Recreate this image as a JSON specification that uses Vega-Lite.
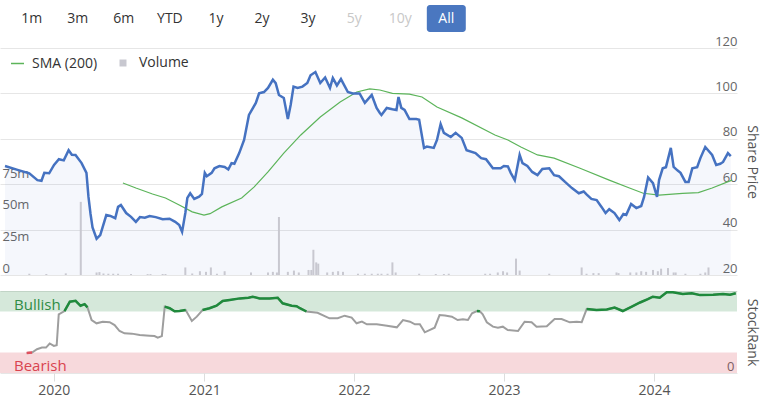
{
  "$schema": "https://vega.github.io/schema/vega-lite/v6.json",
  "padding": {"top": 5, "left": 0, "right": 14, "bottom": 0},
  "background": "white",
  "config": {
    "view": {"stroke": null},
    "font": "Open Sans",
    "axis": {"labelFont": "Open Sans", "titleFont": "Open Sans", "titleFontWeight": "normal"}
  },
  "datasets": {
    "buttons": [
      {"label": "1m", "state": "normal"}, {"label": "3m", "state": "normal"}, {"label": "6m", "state": "normal"},
      {"label": "YTD", "state": "normal"}, {"label": "1y", "state": "normal"}, {"label": "2y", "state": "normal"},
      {"label": "3y", "state": "normal"}, {"label": "5y", "state": "disabled"}, {"label": "10y", "state": "disabled"},
      {"label": "All", "state": "active"}
    ],
    "price": [
      {"date":"2019-08-23","price":68},{"date":"2019-09-23","price":66.3},{"date":"2019-10-22","price":64.8},{"date":"2019-11-11","price":61.8},{"date":"2019-11-21","price":61.5},{"date":"2019-11-28","price":65},{"date":"2019-12-10","price":64.8},{"date":"2019-12-22","price":68.5},{"date":"2020-01-03","price":71},{"date":"2020-01-15","price":70.5},{"date":"2020-01-27","price":75},{"date":"2020-02-04","price":73},{"date":"2020-02-13","price":72.9},{"date":"2020-02-28","price":69.3},{"date":"2020-03-11","price":65},{"date":"2020-03-16","price":54.4},{"date":"2020-03-21","price":47},{"date":"2020-03-26","price":41},{"date":"2020-04-05","price":36},{"date":"2020-04-14","price":37.6},{"date":"2020-04-29","price":46.4},{"date":"2020-05-09","price":46},{"date":"2020-05-21","price":45},{"date":"2020-05-28","price":50},{"date":"2020-06-04","price":50.8},{"date":"2020-06-17","price":47.3},{"date":"2020-06-29","price":45.6},{"date":"2020-07-11","price":43.4},{"date":"2020-07-21","price":45.5},{"date":"2020-08-02","price":45.2},{"date":"2020-08-14","price":46},{"date":"2020-08-29","price":45.5},{"date":"2020-09-15","price":44.6},{"date":"2020-10-02","price":44.8},{"date":"2020-10-16","price":43.4},{"date":"2020-10-26","price":42},{"date":"2020-11-02","price":39},{"date":"2020-11-10","price":47.3},{"date":"2020-11-15","price":54},{"date":"2020-11-22","price":56},{"date":"2020-12-02","price":53.5},{"date":"2020-12-14","price":54.5},{"date":"2020-12-21","price":55.7},{"date":"2020-12-28","price":65},{"date":"2021-01-02","price":63.5},{"date":"2021-01-14","price":65},{"date":"2021-01-21","price":67},{"date":"2021-02-02","price":68},{"date":"2021-02-15","price":67.6},{"date":"2021-02-24","price":66.5},{"date":"2021-03-04","price":69.3},{"date":"2021-03-11","price":69},{"date":"2021-03-23","price":73.7},{"date":"2021-04-04","price":79.5},{"date":"2021-04-16","price":90.5},{"date":"2021-04-26","price":93.6},{"date":"2021-05-03","price":95.8},{"date":"2021-05-11","price":100},{"date":"2021-05-23","price":100.6},{"date":"2021-06-02","price":102.4},{"date":"2021-06-14","price":106},{"date":"2021-06-21","price":104.5},{"date":"2021-06-29","price":99.3},{"date":"2021-07-11","price":98},{"date":"2021-07-21","price":88.7},{"date":"2021-07-28","price":95},{"date":"2021-08-04","price":103},{"date":"2021-08-14","price":102.4},{"date":"2021-08-26","price":103},{"date":"2021-09-07","price":104.6},{"date":"2021-09-15","price":108},{"date":"2021-09-27","price":109.4},{"date":"2021-10-09","price":104.6},{"date":"2021-10-21","price":107},{"date":"2021-11-02","price":102.4},{"date":"2021-11-09","price":106.8},{"date":"2021-11-19","price":103.5},{"date":"2021-11-29","price":106.3},{"date":"2021-12-16","price":100.6},{"date":"2021-12-28","price":100},{"date":"2022-01-14","price":100},{"date":"2022-01-27","price":95.8},{"date":"2022-02-13","price":99.3},{"date":"2022-02-25","price":93.6},{"date":"2022-03-05","price":91.4},{"date":"2022-03-09","price":90.5},{"date":"2022-03-22","price":93.6},{"date":"2022-04-05","price":93},{"date":"2022-04-15","price":92.7},{"date":"2022-04-20","price":98.4},{"date":"2022-04-27","price":93.6},{"date":"2022-05-05","price":92.7},{"date":"2022-05-17","price":88.7},{"date":"2022-06-03","price":88.7},{"date":"2022-06-10","price":88.4},{"date":"2022-06-22","price":76},{"date":"2022-06-29","price":76.6},{"date":"2022-07-16","price":76},{"date":"2022-07-24","price":79.5},{"date":"2022-08-02","price":86.5},{"date":"2022-08-10","price":82.6},{"date":"2022-08-27","price":80.8},{"date":"2022-09-08","price":82.6},{"date":"2022-09-23","price":80.4},{"date":"2022-10-05","price":75},{"date":"2022-10-27","price":73.7},{"date":"2022-11-10","price":71.5},{"date":"2022-11-22","price":71},{"date":"2022-12-09","price":67},{"date":"2022-12-28","price":67},{"date":"2023-01-05","price":68},{"date":"2023-01-15","price":67.8},{"date":"2023-01-22","price":65},{"date":"2023-02-01","price":61.8},{"date":"2023-02-13","price":72.9},{"date":"2023-02-20","price":69.3},{"date":"2023-03-04","price":68},{"date":"2023-03-16","price":65.4},{"date":"2023-03-29","price":64},{"date":"2023-04-10","price":66.7},{"date":"2023-04-27","price":67},{"date":"2023-05-09","price":64},{"date":"2023-05-21","price":63.5},{"date":"2023-06-05","price":61},{"date":"2023-06-22","price":58.3},{"date":"2023-07-09","price":56},{"date":"2023-07-21","price":56.8},{"date":"2023-07-28","price":55.5},{"date":"2023-08-09","price":53.5},{"date":"2023-08-22","price":53},{"date":"2023-09-03","price":50},{"date":"2023-09-13","price":47.3},{"date":"2023-09-22","price":49},{"date":"2023-10-05","price":47.3},{"date":"2023-10-17","price":44.2},{"date":"2023-10-27","price":46.9},{"date":"2023-11-03","price":46.5},{"date":"2023-11-15","price":51.3},{"date":"2023-11-28","price":49.5},{"date":"2023-12-10","price":50.4},{"date":"2023-12-17","price":54.4},{"date":"2023-12-27","price":63},{"date":"2024-01-08","price":60.5},{"date":"2024-01-18","price":54.4},{"date":"2024-01-23","price":61.8},{"date":"2024-02-01","price":67},{"date":"2024-02-09","price":67.5},{"date":"2024-02-21","price":76},{"date":"2024-02-28","price":67.6},{"date":"2024-03-09","price":66},{"date":"2024-03-16","price":65},{"date":"2024-03-28","price":61},{"date":"2024-04-05","price":61},{"date":"2024-04-14","price":67},{"date":"2024-04-26","price":67.5},{"date":"2024-05-04","price":71.5},{"date":"2024-05-16","price":76.4},{"date":"2024-06-02","price":72.9},{"date":"2024-06-12","price":68.5},{"date":"2024-06-22","price":69},{"date":"2024-06-29","price":69.8},{"date":"2024-07-11","price":73.7},{"date":"2024-07-18","price":72.4}
    ],
    "sma": [
      {"date":"2020-06-09","sma":60.5},{"date":"2020-07-11","sma":58.3},{"date":"2020-08-21","sma":55.7},{"date":"2020-09-22","sma":53.9},{"date":"2020-10-26","sma":50.8},{"date":"2020-11-27","sma":47.8},{"date":"2020-12-26","sma":46.4},{"date":"2021-01-10","sma":47},{"date":"2021-02-08","sma":50},{"date":"2021-03-29","sma":53.9},{"date":"2021-04-29","sma":58.8},{"date":"2021-06-02","sma":65.4},{"date":"2021-07-11","sma":73.7},{"date":"2021-08-22","sma":81.7},{"date":"2021-10-09","sma":89.6},{"date":"2021-11-27","sma":96.2},{"date":"2022-01-07","sma":100.6},{"date":"2022-02-08","sma":102},{"date":"2022-03-05","sma":101.5},{"date":"2022-04-05","sma":100},{"date":"2022-05-17","sma":99.7},{"date":"2022-06-17","sma":98.4},{"date":"2022-07-24","sma":94},{"date":"2022-09-23","sma":89.2},{"date":"2022-12-14","sma":81.7},{"date":"2023-01-15","sma":79.5},{"date":"2023-02-16","sma":76.4},{"date":"2023-03-29","sma":72.9},{"date":"2023-05-09","sma":71.5},{"date":"2023-07-12","sma":67},{"date":"2023-09-22","sma":61.8},{"date":"2023-11-11","sma":58.3},{"date":"2023-12-15","sma":56},{"date":"2024-01-23","sma":55.2},{"date":"2024-03-21","sma":56},{"date":"2024-04-29","sma":56.3},{"date":"2024-06-02","sma":58.3},{"date":"2024-07-21","sma":61.8}
    ],
    "volume": [
      {"date":"2019-10-22","vol":1000000},{"date":"2019-12-03","vol":800000},{"date":"2020-01-20","vol":1300000},{"date":"2020-02-26","vol":58000000},{"date":"2020-04-05","vol":2000000},{"date":"2020-04-12","vol":2300000},{"date":"2020-04-22","vol":1200000},{"date":"2020-05-04","vol":1000000},{"date":"2020-05-16","vol":1000000},{"date":"2020-05-28","vol":1000000},{"date":"2020-06-29","vol":800000},{"date":"2020-08-09","vol":700000},{"date":"2020-08-16","vol":700000},{"date":"2020-09-15","vol":800000},{"date":"2020-09-22","vol":800000},{"date":"2020-11-10","vol":6000000},{"date":"2020-11-27","vol":1200000},{"date":"2020-12-16","vol":3000000},{"date":"2020-12-31","vol":2500000},{"date":"2021-01-12","vol":6000000},{"date":"2021-01-27","vol":1000000},{"date":"2021-02-15","vol":3000000},{"date":"2021-04-21","vol":2000000},{"date":"2021-06-02","vol":2000000},{"date":"2021-06-14","vol":2500000},{"date":"2021-06-24","vol":2000000},{"date":"2021-06-29","vol":46000000},{"date":"2021-07-21","vol":2500000},{"date":"2021-08-05","vol":3500000},{"date":"2021-08-17","vol":2000000},{"date":"2021-09-10","vol":4000000},{"date":"2021-09-17","vol":4000000},{"date":"2021-09-22","vol":20000000},{"date":"2021-09-29","vol":10000000},{"date":"2021-10-04","vol":9000000},{"date":"2021-10-26","vol":2000000},{"date":"2021-11-09","vol":2500000},{"date":"2021-11-22","vol":3000000},{"date":"2021-12-04","vol":2500000},{"date":"2022-01-10","vol":1000000},{"date":"2022-01-27","vol":1000000},{"date":"2022-02-13","vol":1000000},{"date":"2022-02-28","vol":1000000},{"date":"2022-03-09","vol":1000000},{"date":"2022-03-24","vol":1000000},{"date":"2022-04-05","vol":10000000},{"date":"2022-04-13","vol":2000000},{"date":"2022-06-10","vol":1000000},{"date":"2022-07-21","vol":800000},{"date":"2022-08-10","vol":800000},{"date":"2022-08-22","vol":1000000},{"date":"2022-11-20","vol":1000000},{"date":"2022-12-02","vol":1000000},{"date":"2022-12-21","vol":2000000},{"date":"2023-01-03","vol":3000000},{"date":"2023-01-13","vol":2000000},{"date":"2023-02-04","vol":13000000},{"date":"2023-02-13","vol":3500000},{"date":"2023-04-27","vol":1000000},{"date":"2023-07-16","vol":6000000},{"date":"2023-07-28","vol":1000000},{"date":"2023-08-14","vol":1500000},{"date":"2023-08-27","vol":1500000},{"date":"2023-10-10","vol":2000000},{"date":"2023-10-15","vol":1500000},{"date":"2023-11-13","vol":2000000},{"date":"2023-11-28","vol":2000000},{"date":"2023-12-10","vol":3000000},{"date":"2023-12-22","vol":2500000},{"date":"2024-01-08","vol":4000000},{"date":"2024-01-20","vol":3000000},{"date":"2024-01-28","vol":5000000},{"date":"2024-02-14","vol":5500000},{"date":"2024-02-28","vol":2000000},{"date":"2024-03-04","vol":2000000},{"date":"2024-03-28","vol":1000000},{"date":"2024-05-04","vol":1000000},{"date":"2024-05-16","vol":2000000},{"date":"2024-05-24","vol":6000000}
    ],
    "rank": [
      {"date":"2019-10-27","rank":24.5},{"date":"2019-11-09","rank":25},{"date":"2019-11-21","rank":29},{"date":"2019-12-03","rank":31},{"date":"2019-12-13","rank":31},{"date":"2019-12-22","rank":36},{"date":"2020-01-01","rank":33},{"date":"2020-01-08","rank":34},{"date":"2020-01-13","rank":71.6},{"date":"2020-01-27","rank":75.5},{"date":"2020-02-09","rank":87},{"date":"2020-02-23","rank":88},{"date":"2020-03-06","rank":82},{"date":"2020-03-16","rank":84},{"date":"2020-03-23","rank":80},{"date":"2020-04-02","rank":64.6},{"date":"2020-04-14","rank":60.6},{"date":"2020-04-29","rank":62.6},{"date":"2020-05-16","rank":62},{"date":"2020-05-28","rank":58.5},{"date":"2020-06-09","rank":51.2},{"date":"2020-06-21","rank":48.4},{"date":"2020-07-09","rank":48},{"date":"2020-07-28","rank":46.3},{"date":"2020-08-21","rank":45.5},{"date":"2020-09-02","rank":45},{"date":"2020-09-10","rank":43},{"date":"2020-09-20","rank":45},{"date":"2020-09-27","rank":81},{"date":"2020-10-09","rank":79},{"date":"2020-10-21","rank":75.2},{"date":"2020-11-02","rank":75.5},{"date":"2020-11-17","rank":76.8},{"date":"2020-12-02","rank":63.4},{"date":"2020-12-14","rank":68.7},{"date":"2020-12-28","rank":76.8},{"date":"2021-01-14","rank":79},{"date":"2021-01-31","rank":82},{"date":"2021-02-15","rank":87.8},{"date":"2021-03-04","rank":89},{"date":"2021-03-29","rank":91},{"date":"2021-04-19","rank":91.8},{"date":"2021-04-29","rank":93},{"date":"2021-05-16","rank":91},{"date":"2021-06-09","rank":91},{"date":"2021-06-29","rank":91.8},{"date":"2021-07-11","rank":85},{"date":"2021-08-02","rank":82},{"date":"2021-08-14","rank":81.5},{"date":"2021-08-22","rank":79},{"date":"2021-09-07","rank":75},{"date":"2021-10-04","rank":73.5},{"date":"2021-11-02","rank":66.7},{"date":"2021-11-22","rank":66.7},{"date":"2021-12-09","rank":69.9},{"date":"2021-12-26","rank":67.5},{"date":"2022-01-07","rank":60.6},{"date":"2022-01-20","rank":62.6},{"date":"2022-02-01","rank":59.4},{"date":"2022-02-25","rank":59.4},{"date":"2022-03-22","rank":57.7},{"date":"2022-04-15","rank":55.7},{"date":"2022-04-30","rank":64.6},{"date":"2022-05-17","rank":62.6},{"date":"2022-05-29","rank":59.4},{"date":"2022-06-10","rank":59.4},{"date":"2022-06-22","rank":49.6},{"date":"2022-07-16","rank":55.3},{"date":"2022-07-28","rank":70.7},{"date":"2022-08-10","rank":70},{"date":"2022-08-27","rank":68.7},{"date":"2022-09-10","rank":64.6},{"date":"2022-09-23","rank":65.5},{"date":"2022-10-05","rank":64.6},{"date":"2022-10-15","rank":72.8},{"date":"2022-10-27","rank":75.6},{"date":"2022-11-03","rank":75.3},{"date":"2022-11-10","rank":71.6},{"date":"2022-11-20","rank":61.8},{"date":"2022-12-05","rank":56.5},{"date":"2022-12-17","rank":55.3},{"date":"2022-12-29","rank":56.5},{"date":"2023-01-10","rank":52.4},{"date":"2023-02-04","rank":51.2},{"date":"2023-02-20","rank":62.6},{"date":"2023-03-09","rank":62},{"date":"2023-03-21","rank":56.5},{"date":"2023-04-15","rank":57},{"date":"2023-05-04","rank":65.8},{"date":"2023-05-21","rank":65.8},{"date":"2023-06-10","rank":61.8},{"date":"2023-06-27","rank":62.5},{"date":"2023-07-09","rank":62},{"date":"2023-07-21","rank":78},{"date":"2023-08-14","rank":76.8},{"date":"2023-09-08","rank":77.5},{"date":"2023-09-27","rank":79.7},{"date":"2023-10-17","rank":75.6},{"date":"2023-11-08","rank":81},{"date":"2023-11-28","rank":86},{"date":"2023-12-17","rank":90},{"date":"2023-12-29","rank":93},{"date":"2024-01-15","rank":91.8},{"date":"2024-02-01","rank":98.4},{"date":"2024-02-16","rank":98.4},{"date":"2024-03-11","rank":96.3},{"date":"2024-04-02","rank":97.2},{"date":"2024-04-22","rank":95},{"date":"2024-05-24","rank":95.5},{"date":"2024-06-17","rank":96.3},{"date":"2024-07-04","rank":95.5},{"date":"2024-07-18","rank":97.2}
    ],
    "bands": [
      {"zone": "Bullish", "lo": 75, "hi": 100, "date": "2019-08-23", "end": "2024-07-21"},
      {"zone": "Bearish", "lo": 0, "hi": 25, "date": "2019-08-23", "end": "2024-07-21"}
    ]
  },
  "vconcat": [
    {
      "width": 478,
      "height": 27,
      "data": {"name": "buttons"},
      "encoding": {
        "x": {"field": "label", "type": "nominal", "axis": null,
              "scale": {"domain": ["1m","3m","6m","YTD","1y","2y","3y","5y","10y","All"], "paddingInner": 0.154, "paddingOuter": 0.265}}
      },
      "layer": [
        {"transform": [{"filter": "datum.state === 'active'"}],
         "mark": {"type": "rect", "cornerRadius": 3, "color": "#4a77c0"}},
        {"mark": {"type": "text", "fontSize": 14, "font": "Open Sans"},
         "encoding": {
           "text": {"field": "label"},
           "color": {"field": "state", "type": "nominal", "legend": null,
                     "scale": {"domain": ["normal","disabled","active"], "range": ["#333333","#c8c8c8","#ffffff"]}},
           "fontWeight": {"condition": {"test": "datum.state === 'active'", "value": "bold"}, "value": "normal"}
         }}
      ]
    },
    {
      "width": 737,
      "height": 227,
      "encoding": {
        "x": {"field": "date", "type": "temporal", "axis": null,
              "scale": {"type": "utc", "domain": [{"year": 2019, "month": 8, "date": 23, "utc": true}, {"year": 2024, "month": 7, "date": 21, "utc": true}]}}
      },
      "layer": [
        {"data": {"name": "price"},
         "mark": {"type": "area", "color": "#4572c1", "opacity": 0.055},
         "encoding": {
           "y": {"field": "price", "type": "quantitative", "axis": null, "scale": {"domain": [20, 120], "nice": false, "zero": false}},
           "y2": {"datum": 20}
         }},
        {"data": {"name": "volume"},
         "mark": {"type": "bar", "size": 2},
         "encoding": {
           "y": {"field": "vol", "type": "quantitative", "scale": {"domain": [0, 180000000], "nice": false},
                 "axis": {"orient": "left", "title": null, "values": [0, 25000000, 50000000, 75000000],
                          "labelExpr": "datum.value == 0 ? '0' : format(datum.value / 1000000, 'd') + 'm'",
                          "grid": false, "ticks": false, "domain": false, "labelAlign": "left", "labelPadding": -2,
                          "labelBaseline": "bottom", "labelFontSize": 13, "labelColor": "#666666"}},
           "color": {"datum": "Volume", "scale": {"range": ["#c8c8d0"]},
                     "legend": {"title": null, "orient": "none", "legendX": 116, "legendY": 8, "direction": "horizontal",
                                "symbolType": "square", "symbolSize": 49, "labelFontSize": 14, "labelColor": "#333333",
                                "labelOffset": 9, "padding": 0, "labelFont": "Open Sans"}}
         }},
        {"data": {"name": "sma"},
         "mark": {"type": "line", "strokeWidth": 1.2},
         "encoding": {
           "y": {"field": "sma", "type": "quantitative", "axis": null, "scale": {"domain": [20, 120], "nice": false, "zero": false}},
           "color": {"datum": "SMA (200)", "scale": {"range": ["#5cb45a"]},
                     "legend": {"title": null, "orient": "none", "legendX": 10, "legendY": 8, "direction": "horizontal",
                                "symbolType": "stroke", "symbolSize": 169, "symbolStrokeWidth": 1.5, "labelFontSize": 14,
                                "labelColor": "#333333", "labelOffset": 7, "padding": 0, "labelFont": "Open Sans"}}
         }},
        {"data": {"name": "price"},
         "mark": {"type": "line", "color": "#4572c1", "strokeWidth": 2.5},
         "encoding": {
           "y": {"field": "price", "type": "quantitative", "scale": {"domain": [20, 120], "nice": false, "zero": false},
                 "axis": {"orient": "right", "title": "Share Price", "values": [20, 40, 60, 80, 100, 120],
                          "grid": true, "gridColor": "#e6e6e6", "ticks": false, "domain": false,
                          "labelAlign": "right", "labelPadding": 0, "labelBaseline": "bottom", "labelFontSize": 13,
                          "labelColor": "#666666", "titleFontSize": 14, "titleColor": "#555555", "titlePadding": 7}}
         }}
      ],
      "resolve": {"scale": {"y": "independent", "color": "independent"}, "axis": {"y": "independent"}, "legend": {"color": "independent"}}
    },
    {
      "width": 737,
      "height": 82,
      "encoding": {
        "x": {"field": "date", "type": "temporal",
              "scale": {"type": "utc", "domain": [{"year": 2019, "month": 8, "date": 23, "utc": true}, {"year": 2024, "month": 7, "date": 21, "utc": true}]},
              "axis": {"title": null, "format": "%Y", "domain": false, "grid": false, "tickSize": 8, "tickColor": "#dddddd",
                       "labelFontSize": 14, "labelColor": "#555555", "labelPadding": 2,
                       "values": [{"year": 2020, "month": 1, "date": 1, "utc": true}, {"year": 2021, "month": 1, "date": 1, "utc": true},
                                  {"year": 2022, "month": 1, "date": 1, "utc": true}, {"year": 2023, "month": 1, "date": 1, "utc": true},
                                  {"year": 2024, "month": 1, "date": 1, "utc": true}]}}
      },
      "layer": [
        {"data": {"name": "bands"},
         "mark": {"type": "rect", "fillOpacity": 0.2, "strokeWidth": 0},
         "encoding": {
           "x2": {"field": "end"},
           "y": {"field": "lo", "type": "quantitative", "scale": {"domain": [0, 100], "nice": false},
                 "axis": {"orient": "right", "title": "StockRank", "values": [0, 100],
                          "labelExpr": "datum.value == 0 ? '0' : ''",
                          "grid": true, "gridColor": "#e6e6e6", "ticks": false, "domain": false,
                          "labelAlign": "right", "labelPadding": -3, "labelBaseline": "bottom", "labelFontSize": 13,
                          "labelColor": "#666666", "titleFontSize": 14, "titleColor": "#555555", "titlePadding": 7}},
           "y2": {"field": "hi"},
           "fill": {"condition": {"test": "datum.zone === 'Bullish'", "value": "#2f8c45"}, "value": "#d9434f"}
         }},
        {"data": {"name": "bands"},
         "mark": {"type": "text", "align": "left", "baseline": "alphabetic", "dx": 14, "dy": -2, "fontSize": 15, "font": "Open Sans"},
         "encoding": {
           "y": {"field": "lo", "type": "quantitative"},
           "text": {"field": "zone"},
           "color": {"condition": {"test": "datum.zone === 'Bullish'", "value": "#2f8c45"}, "value": "#d9434f"}
         }},
        {"data": {"name": "rank"},
         "mark": {"type": "line", "color": "#9e9e9e", "strokeWidth": 2},
         "encoding": {"y": {"field": "rank", "type": "quantitative"}}},
        {"data": {"name": "rank"},
         "transform": [{"calculate": "datum.rank >= 74.5 ? datum.rank : null", "as": "bull"}],
         "mark": {"type": "line", "color": "#1f8a3c", "strokeWidth": 2.5, "invalid": "break-paths-filter-domains"},
         "encoding": {"y": {"field": "bull", "type": "quantitative"}}},
        {"data": {"name": "rank"},
         "transform": [{"calculate": "datum.rank <= 25.2 ? datum.rank : null", "as": "bear"}],
         "mark": {"type": "line", "color": "#e0505e", "strokeWidth": 2.5, "invalid": "break-paths-filter-domains"},
         "encoding": {"y": {"field": "bear", "type": "quantitative"}}}
      ]
    }
  ],
  "spacing": 16,
  "bounds": "flush"
}
